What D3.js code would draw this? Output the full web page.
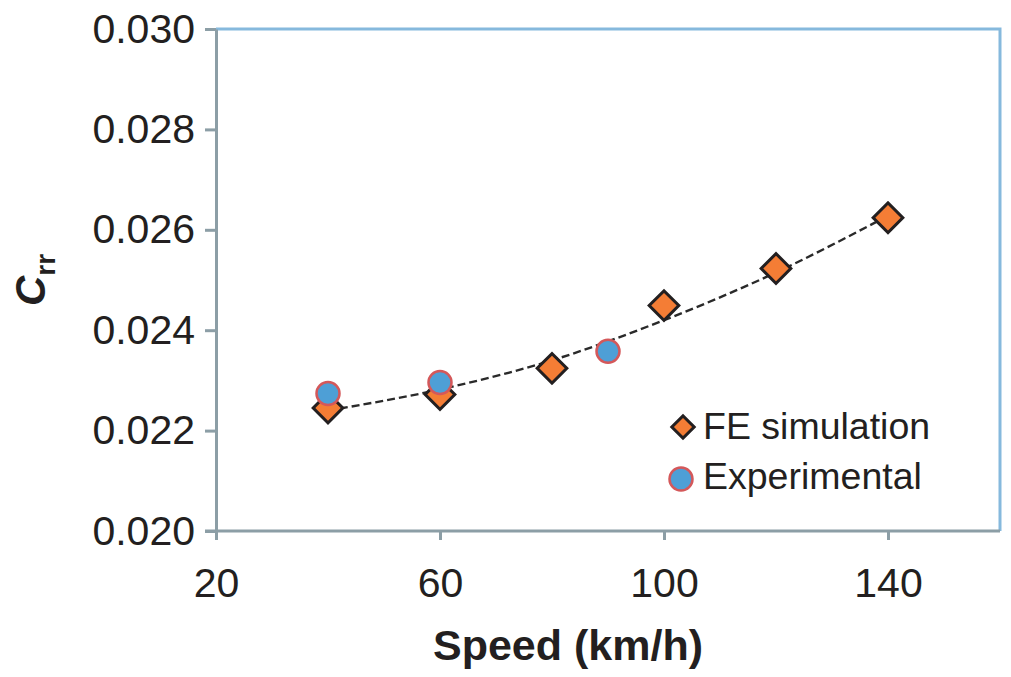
<!DOCTYPE html>
<html>
<head>
<meta charset="utf-8">
<script src="https://cdn.jsdelivr.net/npm/d3@7/dist/d3.min.js"></script>
<style>
  body { margin: 0; background: #fff; }
  text { font-family: "Liberation Sans", Arial, sans-serif; fill: #231f20; }
</style>
</head>
<body>
<svg id="chart" width="1011" height="677"></svg>
<script>
// values
const feSpeed = [40, 60, 80, 100, 120, 140];
const feCrr = [0.02245, 0.02272, 0.02324, 0.02449, 0.02523, 0.02624];
const expSpeed = [40, 60, 90];
const expCrr = [0.02274, 0.02296, 0.02358];
// dashed trend line
const trendSpeed = [40, 60, 80, 100, 120, 140];
const trendCrr = [0.02240, 0.02282, 0.02340, 0.02420, 0.02515, 0.02628];
const xTicks = [20, 60, 100, 140];
const yTicks = [0.020, 0.022, 0.024, 0.026, 0.028, 0.030];
const legendLabels = ['FE simulation', 'Experimental'];

const margin = { top: 29, right: 11, bottom: 146, left: 216 };
const svg = d3.select('#chart');
const width = 1011 - margin.left - margin.right;
const height = 677 - margin.top - margin.bottom;

const x = d3.scaleLinear().domain([20, 160]).range([0, width]);
const y = d3.scaleLinear().domain([0.020, 0.030]).range([height, 0]);

const g = svg.append('g').attr('transform', `translate(${margin.left},${margin.top})`);

// top + right frame (light blue)
g.append('path')
  .attr('d', `M0,0 H${width} V${height}`)
  .attr('fill', 'none')
  .attr('stroke', '#86b9dd')
  .attr('stroke-width', 3);

const axisColor = '#8c9ea6';

const xAxis = g.append('g')
  .attr('transform', `translate(0,${height})`)
  .call(d3.axisBottom(x).tickValues(xTicks).tickSize(9).tickSizeOuter(0).tickPadding(28).tickFormat(d3.format('d')));
const yAxis = g.append('g')
  .call(d3.axisLeft(y).tickValues(yTicks).tickSize(11).tickSizeOuter(0).tickPadding(10).tickFormat(d3.format('.3f')));

[xAxis, yAxis].forEach(a => {
  a.select('.domain').attr('stroke', axisColor).attr('stroke-width', 3);
  a.selectAll('.tick line').attr('stroke', axisColor).attr('stroke-width', 3);
  a.selectAll('.tick text')
    .attr('font-family', '"Liberation Sans", Arial, sans-serif')
    .attr('font-size', 41)
    .attr('fill', '#231f20');
});
xAxis.select('.domain').attr('d', `M-11,0H${width}`);

// trend line
const line = d3.line()
  .x((d, i) => x(trendSpeed[i]))
  .y(d => y(d))
  .curve(d3.curveMonotoneX);
g.append('path')
  .datum(trendCrr)
  .attr('d', line)
  .attr('fill', 'none')
  .attr('stroke', '#2a2a2a')
  .attr('stroke-width', 2.4)
  .attr('stroke-dasharray', '8,4');

const drawDiamond = (sel, cx, cy, size) => sel.append('path')
  .attr('d', d3.symbol().type(d3.symbolSquare).size(size)())
  .attr('transform', `translate(${cx},${cy}) rotate(45)`)
  .attr('fill', '#f47d35')
  .attr('stroke', '#231f20')
  .attr('stroke-width', 3);

const drawCircle = (sel, cx, cy, r) => sel.append('circle')
  .attr('cx', cx).attr('cy', cy).attr('r', r)
  .attr('fill', '#4e9fd6')
  .attr('stroke', '#d4585a')
  .attr('stroke-width', 2.5);

feSpeed.forEach((s, i) => drawDiamond(g, x(s), y(feCrr[i]), 440));
expSpeed.forEach((s, i) => drawCircle(g, x(s), y(expCrr[i]), 11.5));

// legend
const leg = svg.append('g').attr('transform', 'translate(703,439)');
drawDiamond(leg, -20, -12, 250);
leg.append('text').attr('x', 0).attr('y', 0).attr('font-size', 37.5).text(legendLabels[0]);
drawCircle(leg, -22, 40, 11.5);
leg.append('text').attr('x', 0).attr('y', 50).attr('font-size', 37.5).text(legendLabels[1]);

// axis titles
svg.append('text')
  .attr('x', 568)
  .attr('y', 660)
  .attr('text-anchor', 'middle')
  .attr('font-size', 43)
  .attr('font-weight', 'bold')
  .text('Speed (km/h)');

const yt = svg.append('text')
  .attr('transform', 'translate(45,280) rotate(-90)')
  .attr('text-anchor', 'middle')
  .attr('font-size', 42)
  .attr('font-weight', 'bold');
yt.append('tspan').attr('font-style', 'italic').text('C');
yt.append('tspan').attr('font-size', 28).attr('dy', 10).text('rr');
</script>
</body>
</html>
